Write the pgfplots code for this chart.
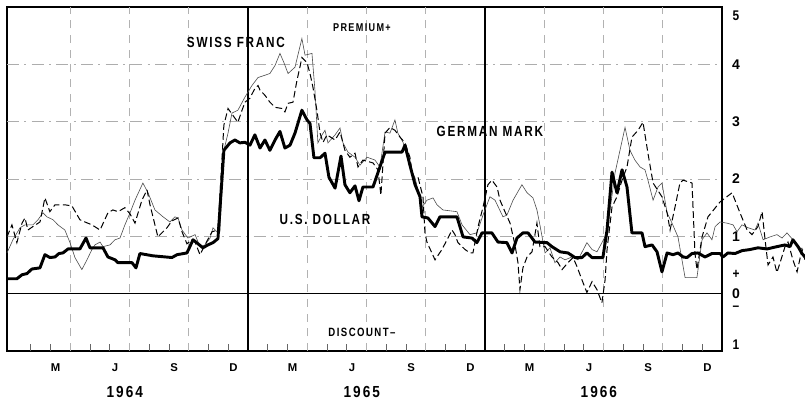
\documentclass[border=0pt]{standalone}
\usepackage{fontspec}
\setmainfont{Liberation Sans}
\newfontfamily\spaced[LetterSpace=15]{Liberation Sans}
\usepackage{graphicx}
\usepackage{pgfplots}
\pgfplotsset{compat=1.18}
\usepackage{pgfplotstable}

\newcommand{\lab}[2][0.8]{\scalebox{#1}[1]{\spaced\bfseries #2}}

% months since 1 Jan 1964, per cent per annum
\pgfplotstableread{
m v
-0.20 0.26
0.30 0.26
0.56 0.33
0.81 0.35
1.06 0.43
1.47 0.45
1.72 0.68
1.97 0.63
2.23 0.64
2.43 0.70
2.63 0.71
2.89 0.78
3.49 0.78
3.80 0.97
4.00 0.80
4.66 0.80
4.91 0.64
5.27 0.59
5.42 0.54
6.13 0.54
6.33 0.45
6.53 0.70
7.19 0.66
8.15 0.63
8.41 0.68
8.91 0.71
9.22 0.94
9.72 0.80
9.97 0.85
10.23 0.89
10.48 0.96
10.68 1.98
10.78 2.50
11.09 2.63
11.34 2.68
11.59 2.63
11.85 2.64
12.10 2.59
12.35 2.77
12.61 2.54
12.86 2.68
13.11 2.50
13.37 2.68
13.62 2.83
13.87 2.54
14.13 2.59
14.38 2.80
14.73 3.20
14.99 3.03
15.14 2.97
15.34 2.37
15.65 2.37
15.90 2.45
16.10 2.03
16.41 1.84
16.71 2.40
16.91 1.90
17.16 1.76
17.42 1.88
17.62 1.62
17.82 1.86
18.33 1.86
18.94 2.47
19.80 2.47
19.95 2.59
20.20 2.24
20.46 1.90
20.71 1.69
20.81 1.34
21.11 1.32
21.47 1.17
21.72 1.34
22.58 1.34
22.89 0.99
23.34 0.97
23.59 0.89
23.85 1.06
24.35 1.06
24.66 0.90
25.11 0.89
25.37 0.71
25.62 0.97
25.92 1.06
26.18 1.06
26.53 0.90
27.14 0.89
27.39 0.82
27.80 0.73
28.20 0.71
28.56 0.63
28.91 0.63
29.16 0.71
29.42 0.63
29.97 0.63
30.18 1.11
30.43 2.12
30.68 1.76
30.94 2.16
31.19 1.86
31.44 1.06
31.95 1.06
32.10 0.82
32.46 0.85
32.71 0.73
32.96 0.38
33.22 0.71
33.52 0.68
33.77 0.71
34.03 0.64
34.23 0.63
34.48 0.70
34.78 0.71
35.14 0.64
35.49 0.70
35.90 0.70
36.05 0.64
36.30 0.71
36.66 0.70
37.01 0.75
37.42 0.77
37.82 0.80
38.28 0.78
38.78 0.82
39.19 0.85
39.44 0.82
39.59 0.94
39.85 0.82
40.05 0.70
40.20 0.64
}\usd

\pgfplotstableread{
m v
-0.20 0.99
0.05 1.20
0.30 0.89
0.56 1.23
0.71 1.32
0.86 1.11
1.11 1.17
1.47 1.25
1.72 1.67
1.97 1.43
2.23 1.55
2.73 1.55
3.09 1.53
3.49 1.29
3.75 1.25
4.10 1.20
4.51 1.11
4.91 1.41
5.16 1.46
5.42 1.43
5.77 1.50
6.03 1.39
6.28 1.23
6.63 1.63
6.89 1.81
7.04 1.55
7.44 0.99
7.90 1.15
8.15 1.27
8.46 1.32
8.66 1.08
8.91 0.87
9.16 0.94
9.32 0.90
9.57 0.68
9.82 0.85
10.18 1.08
10.48 1.11
10.78 2.94
10.99 3.23
11.34 3.06
11.49 2.99
11.70 3.20
11.85 3.34
12.10 3.41
12.35 3.58
12.51 3.63
12.61 3.55
12.86 3.46
13.11 3.34
13.37 3.25
13.72 3.23
13.87 3.17
14.03 3.32
14.28 3.34
14.48 3.72
14.63 3.95
14.73 4.12
14.99 4.03
15.14 3.84
15.29 3.60
15.49 3.20
15.65 2.80
15.80 2.64
16.00 2.77
16.41 2.68
16.66 2.82
16.91 2.50
17.16 2.38
17.42 2.45
17.57 2.21
17.82 2.33
18.33 2.28
18.58 2.16
18.73 1.72
18.94 2.80
19.19 2.90
19.44 2.85
19.70 2.73
19.95 2.63
20.20 2.38
20.35 2.03
20.61 2.03
20.86 1.69
20.96 1.06
21.06 0.90
21.47 0.59
21.82 0.77
22.08 0.94
22.33 1.11
22.48 1.03
22.63 0.89
22.99 0.77
23.24 0.71
23.39 0.71
23.65 1.17
23.90 1.51
24.15 1.90
24.35 1.98
24.61 1.86
24.76 1.63
25.01 1.43
25.27 1.23
25.52 0.85
25.67 0.54
25.77 0.07
25.92 0.45
26.13 0.64
26.38 0.73
26.63 1.23
26.78 0.82
27.04 0.82
27.39 0.64
27.70 0.54
27.90 0.42
28.20 0.54
28.46 0.63
28.66 0.47
28.91 0.24
29.16 0.02
29.42 0.21
29.67 0.07
29.92 -0.16
30.08 0.24
30.18 0.77
30.43 1.51
30.68 1.69
30.94 1.98
31.19 2.21
31.44 2.73
31.75 2.85
32.00 2.99
32.25 2.45
32.51 1.93
32.96 1.69
33.22 1.41
33.37 1.11
33.62 1.51
33.87 1.93
34.03 1.98
34.48 1.93
34.63 0.71
34.73 0.42
34.99 0.99
35.29 1.34
35.90 1.60
36.51 1.76
36.91 1.41
37.27 1.11
37.52 1.03
37.82 1.17
38.03 1.43
38.18 0.94
38.33 0.50
38.58 0.64
38.78 0.37
38.94 0.54
39.19 0.82
39.34 0.90
39.59 0.59
39.80 0.38
40.05 0.77
40.20 0.59
}\franc

\pgfplotstableread{
m v
-0.20 0.71
0.10 0.94
0.46 1.15
0.71 1.20
1.11 1.20
1.37 1.29
1.62 1.41
1.82 1.34
2.13 1.29
2.38 1.20
2.73 1.11
2.99 0.89
3.24 0.63
3.59 0.42
3.85 0.59
4.10 0.77
4.25 0.85
4.51 0.90
4.66 0.82
5.01 0.85
5.27 0.94
5.52 0.97
5.77 1.20
6.03 1.41
6.28 1.63
6.68 1.93
6.94 1.76
7.29 1.46
7.70 1.34
8.05 1.25
8.30 1.34
8.46 1.32
8.66 1.11
8.96 0.97
9.32 1.03
9.57 0.82
9.82 0.85
10.08 0.97
10.23 1.15
10.43 1.08
10.58 1.08
10.78 2.50
10.99 2.80
11.19 3.15
11.49 3.20
11.85 3.43
12.20 3.63
12.51 3.77
12.86 3.81
13.11 3.84
13.37 3.98
13.62 4.19
13.82 4.03
14.03 3.84
14.38 3.95
14.73 4.45
14.89 4.16
15.24 4.19
15.39 3.55
15.54 2.63
15.75 2.77
15.90 2.85
16.05 2.63
16.41 2.77
16.66 2.89
16.81 2.63
17.06 2.47
17.42 2.38
17.67 2.24
18.03 2.38
18.43 2.33
18.68 2.21
18.94 2.82
19.19 2.80
19.44 3.03
19.59 2.80
19.85 2.64
20.20 2.21
20.46 2.02
20.81 1.51
21.06 1.63
21.37 1.67
21.57 1.55
21.87 1.46
22.58 1.43
22.84 1.20
23.24 1.03
23.59 1.06
23.90 1.37
24.25 1.69
24.51 1.63
24.91 1.34
25.11 1.37
25.42 1.63
25.87 1.90
26.13 1.76
26.43 1.67
26.63 1.46
26.78 1.20
27.04 0.71
27.29 0.80
27.54 0.54
27.80 0.64
28.05 0.59
28.41 0.64
28.71 0.59
29.16 0.89
29.42 0.77
29.67 0.73
29.92 0.89
30.18 1.06
30.58 2.10
31.09 2.90
31.34 2.50
31.59 2.33
31.85 2.21
32.10 2.16
32.25 1.98
32.51 1.63
32.76 1.86
32.96 1.93
33.22 1.41
33.47 1.23
33.77 0.99
34.13 0.28
34.73 0.28
34.99 0.94
35.24 1.06
35.49 0.94
35.65 1.17
35.90 1.25
36.25 1.23
36.56 1.20
36.76 1.08
37.01 1.20
37.32 1.15
37.67 1.11
37.82 1.23
38.08 0.94
38.43 0.99
38.78 1.03
39.04 0.97
39.29 1.06
39.59 0.94
39.85 0.82
40.10 0.77
}\mark

\begin{document}
\begin{tikzpicture}
\begin{axis}[
  scale only axis, width=536.25pt, height=258pt,
  xmin=-0.2, xmax=36, ymin=-1, ymax=5,
  clip=false,
  axis line style={line width=0.9pt},
  xtick={2.5,5.5,...,35.5},
  xticklabels={M,J,S,D,M,J,S,D,M,J,S,D},
  xticklabel style={anchor=center, yshift=-12.75pt, xshift=-3.5pt,
    font=\fontsize{8.5}{9}\selectfont\bfseries},
  xtick pos=bottom,
  major tick length=0pt,
  ytick={0,1,2,3,4},
  yticklabels={0,1,2,3,4},
  yticklabel pos=right,
  ytick pos=right,
  yticklabel style={anchor=center, xshift=10.5pt, inner sep=0pt,
    font=\fontsize{10.5}{11}\selectfont\bfseries},
  no markers,
]
\coordinate (SW) at (rel axis cs:0,0);
\coordinate (NE) at (rel axis cs:1,1);

\pgfplotsinvokeforeach{1,2,3,4}{
  \draw[black!32, line width=0.4pt, dash pattern=on 9pt off 4pt on 1.5pt off 4pt]
    (axis cs:-0.2,#1) -- (axis cs:36,#1);}
\pgfplotsinvokeforeach{3,6,9,15,18,21,27,30,33}{
  \draw[black!30, line width=0.4pt, dash pattern=on 6pt off 5pt]
    (axis cs:#1,-1) -- (axis cs:#1,5);}
\pgfplotsinvokeforeach{1,2,4,5,7,8,10,11,13,14,16,17,19,20,22,23,25,26,28,29,31,32,34,35}{
  \draw[black!60, line width=0.5pt] (axis cs:#1,-1) -- (axis cs:#1,-0.88);}
\draw[black, line width=0.9pt] (axis cs:12,-1) -- (axis cs:12,5);
\draw[black, line width=0.9pt] (axis cs:24,-1) -- (axis cs:24,5);
\draw[black, line width=0.9pt] (axis cs:-0.2,0) -- (axis cs:36,0);

\addplot[black!70, line width=0.45pt] table {\mark};
\addplot[black, line width=0.75pt, dash pattern=on 5pt off 2.5pt] table {\franc};
\addplot[black, line width=2.2pt, line join=round] table {\usd};

\node at (axis cs:11.39,4.38) {\lab[0.8]{\fontsize{11}{12}\selectfont SWISS FRANC}};
\node at (axis cs:24.25,2.83) {\lab[0.8]{\fontsize{11}{12}\selectfont GERMAN MARK}};
\node at (axis cs:15.9,1.29) {\lab[0.8]{\fontsize{11}{12}\selectfont U.S. DOLLAR}};
\node at (axis cs:17.77,4.64) {\lab[0.8]{\fontsize{8.5}{9}\selectfont PREMIUM+}};
\node at (axis cs:17.77,-0.68) {\lab[0.8]{\fontsize{9}{10}\selectfont DISCOUNT\textendash}};

\node[inner sep=0pt, xshift=10.5pt] at (axis cs:36,4.85) {\lab[0.85]{\fontsize{10.5}{11}\selectfont 5}};
\node[inner sep=0pt, xshift=10.5pt] at (axis cs:36,0.33) {\lab[0.85]{\fontsize{10.5}{11}\selectfont +}};
\node[inner sep=0pt, xshift=10.5pt] at (axis cs:36,-0.26) {\lab[0.85]{\fontsize{10.5}{11}\selectfont \textendash}};
\node[inner sep=0pt, xshift=10.5pt] at (axis cs:36,-0.89) {\lab[0.85]{\fontsize{10.5}{11}\selectfont 1}};

\node[inner sep=0pt, xshift=-3.5pt, yshift=-31pt] at (axis cs:6,-1) {\lab[0.85]{\fontsize{12}{12}\selectfont 1964}};
\node[inner sep=0pt, xshift=-3.5pt, yshift=-31pt] at (axis cs:18,-1) {\lab[0.85]{\fontsize{12}{12}\selectfont 1965}};
\node[inner sep=0pt, xshift=-3.5pt, yshift=-31pt] at (axis cs:30,-1) {\lab[0.85]{\fontsize{12}{12}\selectfont 1966}};
\end{axis}
\pgfresetboundingbox
\path[use as bounding box] ([shift={(-5.25pt,-37.5pt)}]SW) rectangle ([shift={(62.25pt,5.25pt)}]NE);
\end{tikzpicture}
\end{document}
